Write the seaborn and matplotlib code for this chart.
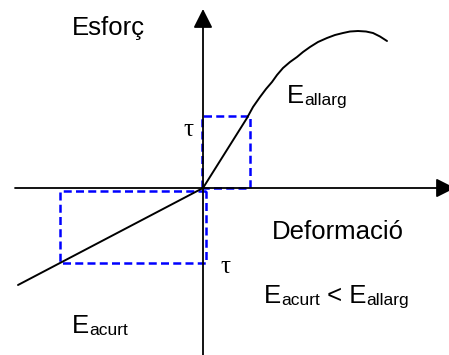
import matplotlib
matplotlib.use("Agg")
import matplotlib.pyplot as plt
import seaborn as sns

# ==========================
# DATA (strain, stress) in arbitrary units, origin at (0, 0)
# ==========================
# tension branch (allargament): straight part then curving to a maximum
strain_allarg = [0, 44, 50, 57, 63, 69, 74, 80, 87, 94, 100, 107, 115, 124,
                 132, 140, 147, 155, 163, 170, 177, 184]
stress_allarg = [0, 70, 81, 91, 99, 106, 113, 120, 126, 131, 136, 141, 146, 150,
                 153, 155, 156.5, 157, 156.5, 155, 151.5, 147]

# compression branch (escurçament): straight line
strain_acurt = [0, -185]
stress_acurt = [0, -97]

# tau points marked by dashed boxes
tau_allarg = (47, 72)
tau_acurt = (-143, -75)

# axes extent
x_axis = (-188, 252)
y_axis = (-167, 179)

sns.set_style("white")
plt.rcParams["font.family"] = ["Liberation Sans", "DejaVu Sans"]
plt.rcParams["text.color"] = "black"

fig = plt.figure(figsize=(4.49, 3.55), dpi=100)
ax = fig.add_axes([0, 0, 1, 1])
ax.set_xlim(-203, 246)
ax.set_ylim(-167, 188)
ax.set_axis_off()

blue = "#0000ff"
dash = (0, (3.2, 1.7))

# dashed boxes
bx = [-1, -1, tau_allarg[0], tau_allarg[0], -1]
by = [0, tau_allarg[1], tau_allarg[1], 0, 0]
sns.lineplot(x=bx, y=by, sort=False, estimator=None, color=blue, lw=1.8, ls=dash, ax=ax)
bx2 = [3, tau_acurt[0], tau_acurt[0], 3, 3]
by2 = [-3, -3, tau_acurt[1], tau_acurt[1], -3]
sns.lineplot(x=bx2, y=by2, sort=False, estimator=None, color=blue, lw=1.8, ls=dash, ax=ax)

# axes with arrows
arrow = dict(arrowstyle="-|>,head_length=1.15,head_width=0.58", color="black",
             lw=1.3, shrinkA=0, shrinkB=0, mutation_scale=10)
ax.annotate("", xy=(x_axis[1], 0), xytext=(x_axis[0], 0), arrowprops=arrow,
            annotation_clip=False)
ax.annotate("", xy=(0, y_axis[1]), xytext=(0, y_axis[0]), arrowprops=arrow,
            annotation_clip=False)

# stress-strain curve
sns.lineplot(x=strain_allarg, y=stress_allarg, sort=False, estimator=None,
             color="black", lw=1.4, ax=ax, solid_joinstyle="round")
sns.lineplot(x=strain_acurt, y=stress_acurt, sort=False, estimator=None,
             color="black", lw=1.4, ax=ax)

big = 18.5
small = 12.5


def e_label(x, y, parts):
    # parts: list of (text, is_sub)
    t = ax.text(x, y, parts[0][0], fontsize=big, va="baseline", ha="left")
    for txt, sub in parts[1:]:
        t = ax.annotate(txt, xy=(1, 0), xycoords=t, va="bottom", ha="left",
                        fontsize=small if sub else big)
    return t


ax.text(72 - 203, 188 - 35, "Esforç", fontsize=big, va="baseline", ha="left")
ax.text(272 - 203, 188 - 239, "Deformació", fontsize=big, va="baseline", ha="left")
e_label(287 - 203, 188 - 103, [("E", False), ("allarg", True)])
e_label(72 - 203, 188 - 333, [("E", False), ("acurt", True)])
e_label(264 - 203, 188 - 303, [("E", False), ("acurt", True), (" < E", False), ("allarg", True)])

ax.text(183 - 203, 188 - 136, "τ", fontsize=18, family="Liberation Serif",
        va="baseline", ha="left")
ax.text(220 - 203, 188 - 273, "τ", fontsize=18, family="Liberation Serif",
        va="baseline", ha="left")

fig.savefig("out.png", dpi=100)
